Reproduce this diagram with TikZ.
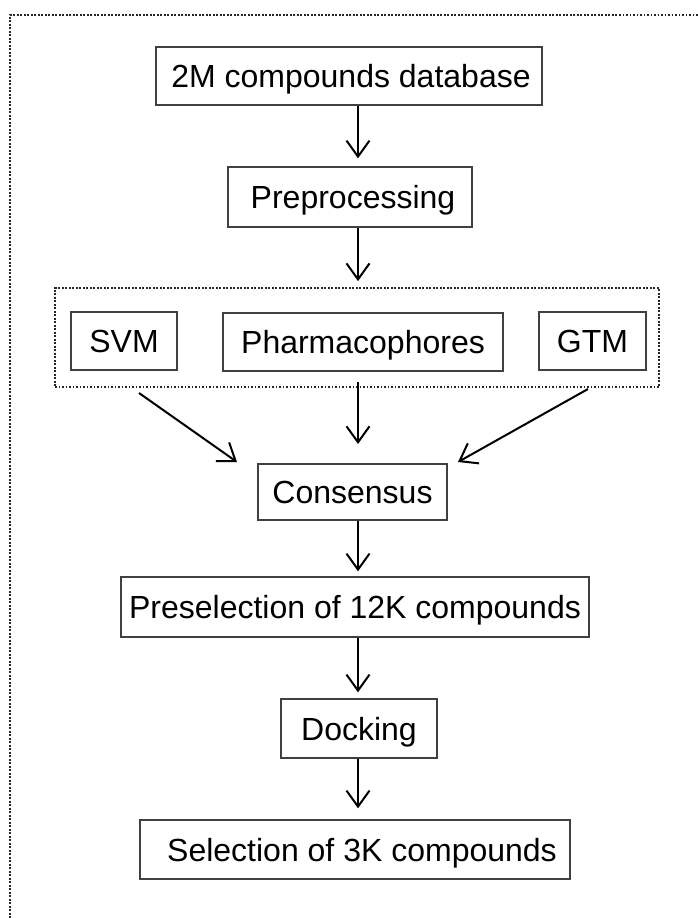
\documentclass[tikz,border=0pt]{standalone}
\usepackage{fontspec}
\setmainfont{Liberation Sans}
\usetikzlibrary{arrows.meta}
\begin{document}
\begin{tikzpicture}[x=1pt,y=-1pt,
  box/.style={draw=black!75,line width=1.4pt,inner sep=0pt,fill=white,
    text height=23pt,text depth=0pt,
    font=\fontsize{32}{38}\selectfont},
  dotline/.style={draw=black!85,line width=1.8pt,dash pattern=on 1.6pt off 1.9pt},
  arr/.style={draw=black,line width=2pt,-{Straight Barb[length=16pt,width=23pt,line width=2pt]}}]
\useasboundingbox (0,0) rectangle (698,918);
\fill[white] (0,0) rectangle (698,918);
% outer dotted frame (only top and left sides visible)
\draw[dotline] (10,918) -- (10,15) -- (698,15);
\coordinate (axis) at (358,0);
% boxes
\node[box,minimum width=386pt,minimum height=58pt] (db) at (349,76) {\hspace*{4pt}2M compounds database};
\node[box,minimum width=244pt,minimum height=60pt] (pre) at (350,197) {\hspace*{6pt}Preprocessing};
\node[dotline,inner sep=0pt,minimum width=604pt,minimum height=99pt] (grp) at (357,337.5) {};
\node[box,minimum width=106pt,minimum height=58pt] (svm) at (124,341) {SVM};
\node[box,minimum width=280pt,minimum height=58pt] (pha) at (363,342) {Pharmacophores};
\node[box,minimum width=107pt,minimum height=58pt] (gtm) at (592.5,341) {GTM};
\node[box,minimum width=189pt,minimum height=56pt] (cons) at (352.5,492) {Consensus};
\node[box,minimum width=468pt,minimum height=60pt] (presel) at (355,607) {Preselection of 12K compounds};
\node[box,minimum width=156pt,minimum height=59pt] (dock) at (359,728.5) {Docking};
\node[box,minimum width=430pt,minimum height=59pt] (sel) at (355,849.5) {\hspace*{14pt}Selection of 3K compounds};
% free ends of the diagonal connectors
\coordinate (ls) at (139,393);
\coordinate (le) at (237,462);
\coordinate (rs) at (588,389);
\coordinate (re) at (458,462);
\coordinate (me) at (358,444);
% connectors
\draw[arr,shorten >=8pt] (db.south -| axis) -- (pre.north -| axis);
\draw[arr,shorten >=6pt] (pre.south -| axis) -- (grp.north -| axis);
\draw[arr] (ls) -- (le);
\draw[arr] ([yshift=6pt]grp.south -| axis) -- (me);
\draw[arr] (rs) -- (re);
\draw[arr,shorten >=5pt] (cons.south -| axis) -- (presel.north -| axis);
\draw[arr,shorten >=6pt] (presel.south -| axis) -- (dock.north -| axis);
\draw[arr,shorten >=11pt] (dock.south -| axis) -- (sel.north -| axis);
\end{tikzpicture}
\end{document}
